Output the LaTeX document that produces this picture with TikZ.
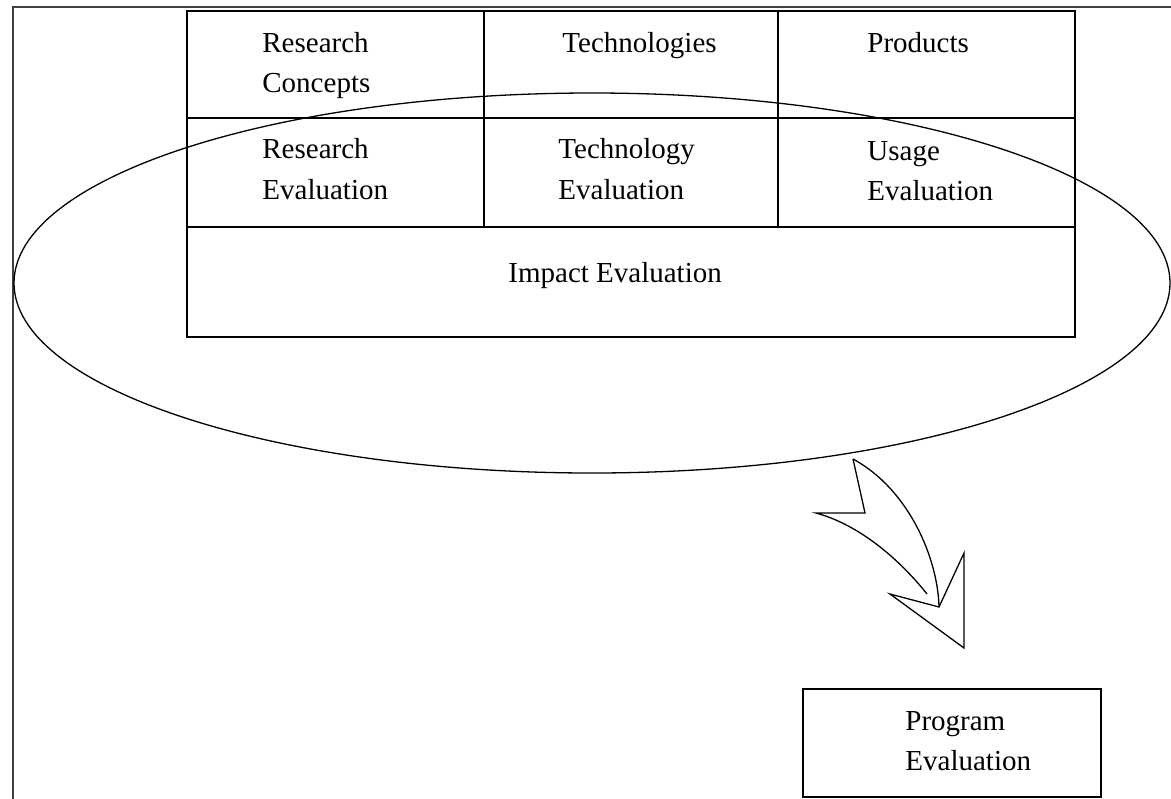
\documentclass[tikz,border=0pt]{standalone}
\usepackage{fontspec}
\setmainfont{Liberation Serif}
\begin{document}
\begin{tikzpicture}[x=0.5pt,y=-0.5pt,
  thinline/.style={line width=0.65pt,black},
  frameline/.style={line width=1.1pt,black!75},
  lbl/.style={anchor=base west,inner sep=0pt,font=\fontsize{14.5pt}{20pt}\selectfont}]
\useasboundingbox (0,0) rectangle (1171,798);
% outer frame (open to the right and bottom)
\draw[frameline] (13,805) -- (13,7) -- (1180,7);
% table
\draw[thinline] (187,11) rectangle (1075,337);
\draw[thinline] (187,118) -- (1075,118);
\draw[thinline] (187,227) -- (1075,227);
\draw[thinline] (484,11) -- (484,227);
\draw[thinline] (778,11) -- (778,227);
% cell texts
\node[lbl] (rc1) at (262,52) {Research};
\node[lbl] (rc2) at (262,92) {Concepts};
\node[lbl] (tc) at (562,52) {Technologies};
\node[lbl] (pr) at (867,52) {Products};
\node[lbl] (re1) at (262,158) {Research};
\node[lbl] (re2) at (262,199) {Evaluation};
\node[lbl] (te1) at (558,158) {Technology};
\node[lbl] (te2) at (558,199) {Evaluation};
\node[lbl] (ue1) at (867,160) {Usage};
\node[lbl] (ue2) at (867,200) {Evaluation};
\node[lbl] (ie) at (508,282) {Impact Evaluation};
% ellipse around the evaluation rows
\draw[thinline] (592,283) ellipse [x radius=578, y radius=190];
% curved block arrow
\draw[thinline, line join=miter] (853,459) -- (865,513) -- (816,513)
  .. controls (860,525) and (900,560) .. (927,594);
\draw[thinline, line join=miter] (890,594) -- (939,607) -- (964,553) -- (964,648) -- cycle;
\draw[thinline] (939,607) .. controls (938,560) and (910,490) .. (853,459);
% program evaluation box
\node[draw, thinline, minimum width=149pt, minimum height=54pt, inner sep=0pt]
  (prog) at (952,743) {};
\node[lbl] (pe1) at (905,730) {Program};
\node[lbl] (pe2) at (905,770) {Evaluation};
\end{tikzpicture}
\end{document}
